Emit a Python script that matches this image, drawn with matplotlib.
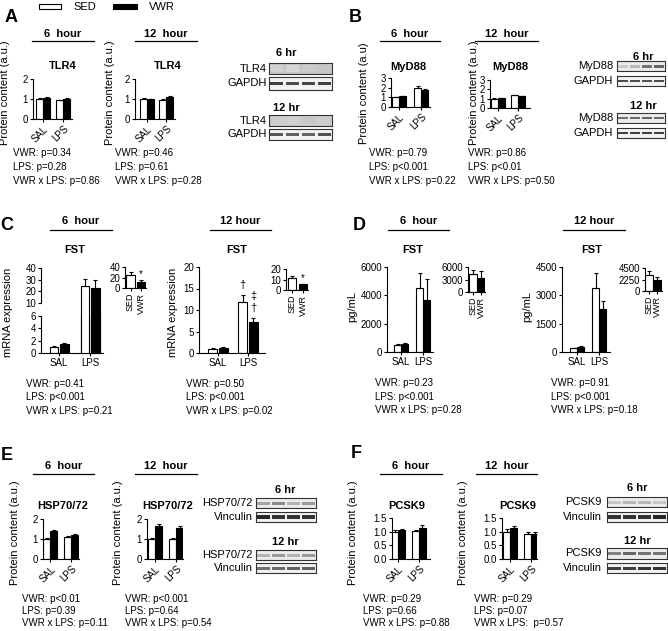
import numpy as np
import matplotlib
matplotlib.use('Agg')
import matplotlib.pyplot as plt
from matplotlib.lines import Line2D
from matplotlib.patches import Rectangle

W, H = 668, 631

# ---- values ----
groups = ['SAL', 'LPS']
inset_groups = ['SED', 'VWR']

# A: TLR4 protein content
tlr4_6h_sed = [1.00, 0.93]
tlr4_6h_sed_err = [0.04, 0.03]
tlr4_6h_vwr = [1.05, 1.00]
tlr4_6h_vwr_err = [0.05, 0.05]
tlr4_12h_sed = [1.00, 0.97]
tlr4_12h_sed_err = [0.05, 0.04]
tlr4_12h_vwr = [0.98, 1.10]
tlr4_12h_vwr_err = [0.04, 0.05]

# B: MyD88 protein content
myd88_6h_sed = [1.00, 1.95]
myd88_6h_sed_err = [0.05, 0.18]
myd88_6h_vwr = [1.12, 1.75]
myd88_6h_vwr_err = [0.05, 0.12]
myd88_12h_sed = [1.00, 1.35]
myd88_12h_sed_err = [0.05, 0.07]
myd88_12h_vwr = [1.05, 1.28]
myd88_12h_vwr_err = [0.05, 0.05]

# C: FST mRNA expression
fst_mrna_6h_sed = [1.0, 25.0]
fst_mrna_6h_sed_err = [0.15, 6.0]
fst_mrna_6h_vwr = [1.5, 23.0]
fst_mrna_6h_vwr_err = [0.15, 7.0]
fst_mrna_6h_pooled = [24.0, 12.0]
fst_mrna_6h_pooled_err = [6.0, 4.0]
fst_mrna_12h_sed = [1.0, 11.8]
fst_mrna_12h_sed_err = [0.1, 1.8]
fst_mrna_12h_vwr = [1.2, 7.1]
fst_mrna_12h_vwr_err = [0.1, 1.1]
fst_mrna_12h_pooled = [11.5, 5.3]
fst_mrna_12h_pooled_err = [1.8, 0.7]

# D: FST protein (pg/mL)
fst_pg_6h_sed = [500, 4550]
fst_pg_6h_sed_err = [60, 1050]
fst_pg_6h_vwr = [550, 3650]
fst_pg_6h_vwr_err = [70, 1500]
fst_pg_6h_pooled = [4300, 3450]
fst_pg_6h_pooled_err = [1100, 1700]
fst_pg_12h_sed = [200, 3400]
fst_pg_12h_sed_err = [30, 800]
fst_pg_12h_vwr = [290, 2300]
fst_pg_12h_vwr_err = [40, 400]
fst_pg_12h_pooled = [3150, 2100]
fst_pg_12h_pooled_err = [750, 550]

# E: HSP70/72 protein content
hsp_6h_sed = [1.00, 1.08]
hsp_6h_sed_err = [0.04, 0.05]
hsp_6h_vwr = [1.40, 1.20]
hsp_6h_vwr_err = [0.05, 0.07]
hsp_12h_sed = [1.00, 1.02]
hsp_12h_sed_err = [0.05, 0.05]
hsp_12h_vwr = [1.65, 1.55]
hsp_12h_vwr_err = [0.08, 0.10]

# F: PCSK9 protein content
pcsk9_6h_sed = [1.00, 1.03]
pcsk9_6h_sed_err = [0.05, 0.04]
pcsk9_6h_vwr = [1.07, 1.12]
pcsk9_6h_vwr_err = [0.04, 0.12]
pcsk9_12h_sed = [1.00, 0.90]
pcsk9_12h_sed_err = [0.08, 0.07]
pcsk9_12h_vwr = [1.13, 0.92]
pcsk9_12h_vwr_err = [0.06, 0.07]

# statistics text
stats_a6 = ['VWR: p=0.34', 'LPS: p=0.28', 'VWR x LPS: p=0.86']
stats_a12 = ['VWR: p=0.46', 'LPS: p=0.61', 'VWR x LPS: p=0.28']
stats_b6 = ['VWR: p=0.79', 'LPS: p<0.001', 'VWR x LPS: p=0.22']
stats_b12 = ['VWR: p=0.86', 'LPS: p<0.01', 'VWR x LPS: p=0.50']
stats_c6 = ['VWR: p=0.41', 'LPS: p<0.001', 'VWR x LPS: p=0.21']
stats_c12 = ['VWR: p=0.50', 'LPS: p<0.001', 'VWR x LPS: p=0.02']
stats_d6 = ['VWR: p=0.23', 'LPS: p<0.001', 'VWR x LPS: p=0.28']
stats_d12 = ['VWR: p=0.91', 'LPS: p<0.001', 'VWR x LPS: p=0.18']
stats_e6 = ['VWR: p<0.01', 'LPS: p=0.39', 'VWR x LPS: p=0.11']
stats_e12 = ['VWR: p<0.001', 'LPS: p=0.64', 'VWR x LPS: p=0.54']
stats_f6 = ['VWR: p=0.29', 'LPS: p=0.66', 'VWR x LPS: p=0.88']
stats_f12 = ['VWR: p=0.29', 'LPS: p=0.07', 'VWR x LPS:  p=0.57']

# western blot band darkness per lane (0 = none, 1 = black)
blot_tlr4_6h = [0.18, 0.16, 0.20, 0.22]
blot_gapdh_a6h = [0.75, 0.70, 0.72, 0.75]
blot_tlr4_12h = [0.20, 0.18, 0.22, 0.20]
blot_gapdh_a12h = [0.65, 0.62, 0.60, 0.68]
blot_myd88_6h = [0.20, 0.28, 0.55, 0.60]
blot_gapdh_b6h = [0.70, 0.70, 0.68, 0.70]
blot_myd88_12h = [0.55, 0.58, 0.60, 0.58]
blot_gapdh_b12h = [0.75, 0.75, 0.75, 0.75]
blot_hsp_6h = [0.35, 0.45, 0.30, 0.40]
blot_vinc_e6h = [0.85, 0.80, 0.80, 0.80]
blot_hsp_12h = [0.30, 0.40, 0.30, 0.40]
blot_vinc_e12h = [0.55, 0.58, 0.62, 0.62]
blot_pcsk9_6h = [0.22, 0.28, 0.28, 0.22]
blot_vinc_f6h = [0.80, 0.80, 0.80, 0.85]
blot_pcsk9_12h = [0.50, 0.60, 0.55, 0.55]
blot_vinc_f12h = [0.75, 0.75, 0.78, 0.80]

plt.rcParams['font.family'] = ['Liberation Sans', 'DejaVu Sans']
plt.rcParams['font.size'] = 7
plt.rcParams['axes.linewidth'] = 0.8

fig = plt.figure(figsize=(W / 100, H / 100), dpi=100)


def px_axes(x0, y0, x1, y1):
    """Axes from a pixel box, y measured from the top."""
    return fig.add_axes([x0 / W, 1 - y1 / H, (x1 - x0) / W, (y1 - y0) / H])


def ftext(x, y, s, **kw):
    kw.setdefault('ha', 'center')
    kw.setdefault('va', 'center')
    fig.text(x / W, 1 - y / H, s, **kw)


def header(x0, x1, y_text, y_line, s):
    ftext((x0 + x1) / 2, y_text, s, fontsize=8, fontweight='bold')
    fig.add_artist(Line2D([x0 / W, x1 / W], [1 - y_line / H] * 2,
                          color='black', lw=0.9))


def stats(x, y, lines, step):
    for i, s in enumerate(lines):
        ftext(x, y + i * step, s, ha='left', fontsize=7)


def style_axes(ax, ylim, yticks):
    ax.spines['top'].set_visible(False)
    ax.spines['right'].set_visible(False)
    ax.set_ylim(*ylim)
    ax.set_yticks(yticks)
    ax.tick_params(direction='out', length=2.5, width=0.8, pad=1, labelsize=7)
    ax.patch.set_alpha(0)


def err(ax, x, vals, errs, clip=True):
    ax.errorbar(x, vals, yerr=[np.zeros(len(vals)), errs], fmt='none',
                ecolor='black', elinewidth=0.8, capsize=1.5, capthick=0.8,
                zorder=3, clip_on=clip)


def group_bars(box, centers, bar_px, sed, sed_err, vwr, vwr_err, ylim, yticks,
               rotate=True, gap_px=0.0):
    x0, y0, x1, y1 = box
    ax = px_axes(x0, y0, x1, y1)
    scale = centers[1] - centers[0]
    w = bar_px / scale
    off = (bar_px + gap_px) / 2 / scale
    x = np.arange(len(sed))
    ax.bar(x - off, sed, w, color='white', edgecolor='black', lw=0.8, zorder=2)
    ax.bar(x + off, vwr, w, color='black', edgecolor='black', lw=0.8, zorder=2)
    err(ax, x - off, sed, sed_err)
    err(ax, x + off, vwr, vwr_err)
    ax.set_xlim((x0 - centers[0]) / scale, (x1 - centers[0]) / scale)
    ax.set_xticks(x)
    if rotate:
        ax.set_xticklabels(groups, rotation=45, ha='right', va='top',
                           rotation_mode='anchor')
    else:
        ax.set_xticklabels(groups)
    style_axes(ax, ylim, yticks)
    return ax, x, off, w


def inset_bars(box, centers, bar_px, vals, errs, ylim, yticks, star_gap=None):
    x0, y0, x1, y1 = box
    ax = px_axes(x0, y0, x1, y1)
    scale = centers[1] - centers[0]
    x = np.arange(len(vals))
    ax.bar(x, vals, bar_px / scale, color=['white', 'black'],
           edgecolor='black', lw=0.8, zorder=2)
    err(ax, x, vals, errs, clip=False)
    if star_gap is not None:
        ax.text(1, vals[1] + errs[1] + star_gap, '*', ha='center', va='bottom',
                fontsize=7)
    ax.set_xlim((x0 - centers[0]) / scale, (x1 - centers[0]) / scale)
    ax.set_xticks(x)
    ax.set_xticklabels(inset_groups, rotation=90, ha='center', va='top',
                       fontsize=6.5)
    style_axes(ax, ylim, yticks)
    ax.tick_params(axis='x', labelsize=6.5)
    return ax


def blot(box, bands, bg=0.93, band_h=0.32):
    ax = px_axes(*box)
    ax.set_xlim(0, len(bands))
    ax.set_ylim(0, 1)
    ax.set_facecolor((bg, bg, bg))
    lanes = np.arange(len(bands)) + 0.5
    ax.bar(lanes, band_h, width=0.82, bottom=0.5 - band_h / 2,
           color=[(1 - b, 1 - b, 1 - b) for b in bands])
    ax.set_xticks([])
    ax.set_yticks([])
    for sp in ax.spines.values():
        sp.set_linewidth(0.8)
        sp.set_color('#333333')


def blot_pair(x0, x1, boxes_y, names, band_sets, label_x, title, title_xy, bgs,
              heights=(0.32, 0.32)):
    ftext(title_xy[0], title_xy[1], title, fontsize=8, fontweight='bold')
    for (ya, yb), name, bands, bg, bh in zip(boxes_y, names, band_sets, bgs, heights):
        blot((x0, ya, x1, yb), bands, bg=bg, band_h=bh)
        ftext(label_x, (ya + yb) / 2, name, ha='right', fontsize=8)


# ---- legend ----
fig.add_artist(Rectangle((39 / W, 1 - 9 / H), 22 / W, 5 / H, transform=fig.transFigure,
                         facecolor='white', edgecolor='black', lw=0.8))
ftext(73, 6.5, 'SED', ha='left', fontsize=8)
fig.add_artist(Rectangle((113 / W, 1 - 9 / H), 24 / W, 5 / H, transform=fig.transFigure,
                         facecolor='black', edgecolor='black', lw=0.8))
ftext(149, 6.5, 'VWR', ha='left', fontsize=8)

# ---- panel letters ----
for letter, (lx, ly) in {'A': (11, 17), 'B': (355, 17), 'C': (7, 225),
                         'D': (359, 225), 'E': (7, 455), 'F': (356, 454)}.items():
    ftext(lx, ly, letter, fontsize=13, fontweight='bold')

# ---- A ----
header(32, 94, 34, 41, '6  hour')
header(135, 197, 34, 41, '12  hour')
ftext(63, 66, 'TLR4', fontsize=8, fontweight='bold')
ftext(168, 66, 'TLR4', fontsize=8, fontweight='bold')
group_bars((33, 79, 72, 119), (43, 63), 7, tlr4_6h_sed, tlr4_6h_sed_err,
           tlr4_6h_vwr, tlr4_6h_vwr_err, (0, 2), [0, 1, 2])
group_bars((135, 79, 175, 119), (147, 166), 7, tlr4_12h_sed, tlr4_12h_sed_err,
           tlr4_12h_vwr, tlr4_12h_vwr_err, (0, 2), [0, 1, 2])
ftext(5, 93, 'Protein content (a.u.)', rotation=90, fontsize=8)
ftext(110, 93, 'Protein content (a.u.)', rotation=90, fontsize=8)
stats(13, 153, stats_a6, 14)
stats(115, 153, stats_a12, 14)
blot_pair(269, 332, [(63, 74), (77, 90)], ['TLR4', 'GAPDH'],
          [blot_tlr4_6h, blot_gapdh_a6h], 267, '6 hr', (286, 53), [0.78, 0.95],
          heights=(0.6, 0.25))
blot_pair(269, 332, [(115, 126), (129, 140)], ['TLR4', 'GAPDH'],
          [blot_tlr4_12h, blot_gapdh_a12h], 267, '12 hr', (286, 108), [0.80, 0.95],
          heights=(0.6, 0.25))

# ---- B ----
header(380, 440, 34, 41, '6  hour')
header(475, 538, 34, 41, '12  hour')
ftext(408, 67, 'MyD88', fontsize=8, fontweight='bold')
ftext(510, 67, 'MyD88', fontsize=8, fontweight='bold')
group_bars((391, 78, 430, 107), (399, 421), 7, myd88_6h_sed, myd88_6h_sed_err,
           myd88_6h_vwr, myd88_6h_vwr_err, (0, 3), [0, 1, 2, 3])
group_bars((490, 80, 530, 108), (498, 518), 7, myd88_12h_sed, myd88_12h_sed_err,
           myd88_12h_vwr, myd88_12h_vwr_err, (0, 3), [0, 1, 2, 3])
ftext(364, 93, 'Protein content (a.u)', rotation=90, fontsize=8)
ftext(474, 93, 'Protein content (a.u.)', rotation=90, fontsize=8)
stats(369, 153, stats_b6, 14)
stats(468, 153, stats_b12, 14)
blot_pair(617, 665, [(61, 71), (76, 86)], ['MyD88', 'GAPDH'],
          [blot_myd88_6h, blot_gapdh_b6h], 613, '6 hr', (643, 57), [0.92, 0.95],
          heights=(0.3, 0.25))
blot_pair(617, 665, [(113, 123), (128, 138)], ['MyD88', 'GAPDH'],
          [blot_myd88_12h, blot_gapdh_b12h], 613, '12 hr', (643, 106), [0.92, 0.95],
          heights=(0.28, 0.25))

# ---- C ----
header(50, 112, 221, 230, '6  hour')
header(210, 271, 221, 230, '12 hour')
ftext(75, 250, 'FST', fontsize=8, fontweight='bold')
ftext(237, 250, 'FST', fontsize=8, fontweight='bold')
# broken axis: lower part 0-6, upper part 10-40
low_box = (41, 316, 103, 353)
up_box = (41, 268, 103, 303)
low, cx, coff, cw = group_bars(low_box, (59, 90), 8.5,
                               fst_mrna_6h_sed, fst_mrna_6h_sed_err,
                               fst_mrna_6h_vwr, fst_mrna_6h_vwr_err,
                               (0, 6), [0, 2, 4, 6], rotate=False, gap_px=2)
up = px_axes(*up_box)
up.set_xlim(low.get_xlim())
up_ylim = (10, 40)
# extend tall bars down to the lower axis baseline so they run through the break
up_px_per_unit = (up_box[3] - up_box[1]) / (up_ylim[1] - up_ylim[0])
up_base = up_ylim[0] - (low_box[3] - up_box[3]) / up_px_per_unit
big = [i for i, v in enumerate(fst_mrna_6h_sed) if v > up_ylim[0]]
big_sed = [fst_mrna_6h_sed[i] for i in big]
big_vwr = [fst_mrna_6h_vwr[i] for i in big]
up.bar(cx[big] - coff, [v - up_base for v in big_sed], cw, bottom=up_base,
       color='white', edgecolor='black', lw=0.8, clip_on=False, zorder=2)
up.bar(cx[big] + coff, [v - up_base for v in big_vwr], cw, bottom=up_base,
       color='black', edgecolor='black', lw=0.8, clip_on=False, zorder=2)
err(up, cx[big] - coff, big_sed, [fst_mrna_6h_sed_err[i] for i in big])
err(up, cx[big] + coff, big_vwr, [fst_mrna_6h_vwr_err[i] for i in big])
style_axes(up, up_ylim, [10, 20, 30, 40])
up.spines['bottom'].set_visible(False)
up.set_xticks([])
inset_bars((125, 267, 146, 288), (130.5, 141), 9, fst_mrna_6h_pooled,
           fst_mrna_6h_pooled_err, (0, 40), [0, 20, 40], 1)

c2, c2x, c2off, _ = group_bars((199, 267, 265, 353), (218, 248), 9,
                               fst_mrna_12h_sed, fst_mrna_12h_sed_err,
                               fst_mrna_12h_vwr, fst_mrna_12h_vwr_err,
                               (0, 20), [0, 5, 10, 15, 20], rotate=False, gap_px=1.5)
c2.text(c2x[1] - c2off, fst_mrna_12h_sed[1] + fst_mrna_12h_sed_err[1] + 1.0, '\u2020',
        ha='center', va='bottom', fontsize=8)
c2.text(c2x[1] + c2off, fst_mrna_12h_vwr[1] + fst_mrna_12h_vwr_err[1] + 1.0, '\u2020',
        ha='center', va='bottom', fontsize=8)
c2.text(c2x[1] + c2off, fst_mrna_12h_vwr[1] + fst_mrna_12h_vwr_err[1] + 3.8, '\u2021',
        ha='center', va='bottom', fontsize=8)
inset_bars((286, 269, 308, 290), (292, 303), 8, fst_mrna_12h_pooled,
           fst_mrna_12h_pooled_err, (0, 20), [0, 10, 20], 1)
ftext(8, 312, 'mRNA expression', rotation=90, fontsize=8)
ftext(173, 312, 'mRNA expression', rotation=90, fontsize=8)
stats(26, 384, stats_c6, 13.5)
stats(186, 384, stats_c12, 13.5)

# ---- D ----
header(388, 449, 221, 230, '6  hour')
header(563, 625, 221, 230, '12 hour')
ftext(413, 250, 'FST', fontsize=8, fontweight='bold')
ftext(592, 250, 'FST', fontsize=8, fontweight='bold')
group_bars((387, 267, 433, 352), (401, 423), 7, fst_pg_6h_sed, fst_pg_6h_sed_err,
           fst_pg_6h_vwr, fst_pg_6h_vwr_err, (0, 6000), [0, 2000, 4000, 6000],
           rotate=False)
inset_bars((468, 267, 485, 292), (473, 481), 7.5, fst_pg_6h_pooled,
           fst_pg_6h_pooled_err, (0, 6000), [0, 3000, 6000])
group_bars((562, 267, 610, 352), (577, 599), 7, fst_pg_12h_sed, fst_pg_12h_sed_err,
           fst_pg_12h_vwr, fst_pg_12h_vwr_err, (0, 4500), [0, 1500, 3000, 4500],
           rotate=False)
inset_bars((645, 268, 662, 291), (649, 657), 7.5, fst_pg_12h_pooled,
           fst_pg_12h_pooled_err, (0, 4500), [0, 2250, 4500])
ftext(352, 306, 'pg/mL', rotation=90, fontsize=8)
ftext(527, 306, 'pg/mL', rotation=90, fontsize=8)
stats(375, 383, stats_d6, 13.5)
stats(551, 383, stats_d12, 13.5)

# ---- E ----
header(33, 94, 466, 474, '6  hour')
header(135, 197, 466, 474, '12  hour')
ftext(63, 506, 'HSP70/72', fontsize=8, fontweight='bold')
ftext(168, 506, 'HSP70/72', fontsize=8, fontweight='bold')
group_bars((43, 519, 79, 559), (50.5, 71.5), 7, hsp_6h_sed, hsp_6h_sed_err,
           hsp_6h_vwr, hsp_6h_vwr_err, (0, 2), [0, 1, 2])
group_bars((147, 519, 183, 559), (155, 176), 7, hsp_12h_sed, hsp_12h_sed_err,
           hsp_12h_vwr, hsp_12h_vwr_err, (0, 2), [0, 1, 2])
ftext(15, 533, 'Protein content (a.u.)', rotation=90, fontsize=8)
ftext(118, 533, 'Protein content (a.u.)', rotation=90, fontsize=8)
stats(22, 599, stats_e6, 11.8)
stats(125, 599, stats_e12, 11.8)
blot_pair(256, 316, [(498, 508), (512, 522)], ['HSP70/72', 'Vinculin'],
          [blot_hsp_6h, blot_vinc_e6h], 253, '6 hr', (285, 490), [0.92, 0.95],
          heights=(0.3, 0.35))
blot_pair(256, 316, [(550, 560), (563, 573)], ['HSP70/72', 'Vinculin'],
          [blot_hsp_12h, blot_vinc_e12h], 253, '12 hr', (285, 542), [0.92, 0.95],
          heights=(0.3, 0.3))

# ---- F ----
header(380, 442, 466, 474, '6  hour')
header(476, 537, 466, 474, '12  hour')
ftext(407, 506, 'PCSK9', fontsize=8, fontweight='bold')
ftext(518, 506, 'PCSK9', fontsize=8, fontweight='bold')
group_bars((392, 518, 430, 559), (398, 419), 7, pcsk9_6h_sed, pcsk9_6h_sed_err,
           pcsk9_6h_vwr, pcsk9_6h_vwr_err, (0, 1.5), [0, 0.5, 1.0, 1.5])
group_bars((502, 518, 537, 559), (510, 531), 7, pcsk9_12h_sed, pcsk9_12h_sed_err,
           pcsk9_12h_vwr, pcsk9_12h_vwr_err, (0, 1.5), [0, 0.5, 1.0, 1.5])
ftext(353, 533, 'Protein content (a.u.)', rotation=90, fontsize=8)
ftext(463, 533, 'Protein content (a.u.)', rotation=90, fontsize=8)
stats(363, 599, stats_f6, 11.8)
stats(474, 599, stats_f12, 11.8)
blot_pair(607, 667, [(497, 507), (512, 522)], ['PCSK9', 'Vinculin'],
          [blot_pcsk9_6h, blot_vinc_f6h], 602, '6 hr', (637, 488), [0.92, 0.95],
          heights=(0.3, 0.32))
blot_pair(607, 667, [(548, 559), (563, 573)], ['PCSK9', 'Vinculin'],
          [blot_pcsk9_12h, blot_vinc_f12h], 602, '12 hr', (637, 541), [0.92, 0.95],
          heights=(0.3, 0.3))

fig.savefig('out.png', dpi=100)
